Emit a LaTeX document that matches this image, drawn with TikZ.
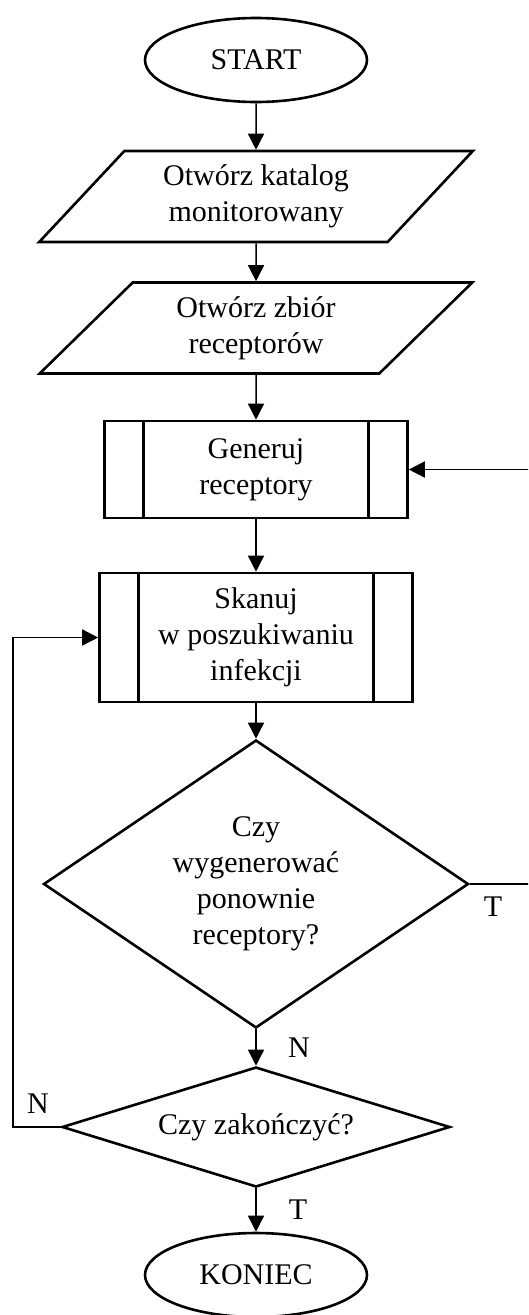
\documentclass[tikz,border=0pt]{standalone}
\usepackage{fontspec}
\setmainfont{Liberation Serif}
\usetikzlibrary{shapes.geometric,arrows.meta}

\tikzset{
  base/.style={draw, line width=2.6pt, inner sep=0pt, align=center,
    font=\fontsize{30}{36}\selectfont},
  terminal/.style={base, ellipse, minimum width=222pt, minimum height=84pt},
  iobox/.style={base, trapezium, trapezium left angle=46.5,
    trapezium right angle=133.5, trapezium stretches=true,
    minimum width=434pt, minimum height=91pt},
  subproc/.style={base, rectangle, minimum width=#1, path picture={
      \draw[line width=2.6pt]
        ([xshift=39pt]path picture bounding box.north west) --
        ([xshift=39pt]path picture bounding box.south west)
        ([xshift=-39pt]path picture bounding box.north east) --
        ([xshift=-39pt]path picture bounding box.south east);}},
  decision/.style={base, diamond},
  tag/.style={font=\fontsize{30}{36}\selectfont, inner sep=0pt},
  conn/.style={line width=1.5pt, -{Triangle[length=16pt,width=16pt]}},
  wire/.style={line width=1.5pt}
}

\begin{document}
\begin{tikzpicture}[x=1pt, y=-1pt]
  \useasboundingbox (0,0) rectangle (528,1315);
  \clip (0,0) rectangle (528,1315);

  \node[terminal] (start) at (256,60) {START};
  \node[iobox] (opendir) at (256,196.5) {Otwórz katalog\\monitorowany};
  \node[iobox] (openset) at (256,328) {Otwórz zbiór\\receptorów};
  \node[subproc=303pt, minimum height=97pt] (gen) at (256,469.5) {Generuj\\receptory};
  \node[subproc=313pt, minimum height=129pt] (scan) at (256,637.5)
    {Skanuj\\w poszukiwaniu\\infekcji};
  \node[decision, minimum width=425pt, minimum height=288pt, aspect=1.476]
    (again) at (256,884) {Czy\\wygenerować\\ponownie\\receptory?};
  \node[decision, minimum width=388pt, minimum height=120pt, aspect=3.2]
    (finish) at (256,1127) {Czy zakończyć?};
  \node[terminal] (stop) at (256,1275) {KONIEC};

  \coordinate (rx) at (540,700);
  \coordinate (lx) at (13,900);

  \draw[conn] (start) -- (opendir);
  \draw[conn] (opendir) -- (openset);
  \draw[conn] (openset) -- (gen);
  \draw[conn] (gen) -- (scan);
  \draw[conn] (scan) -- (again);
  \draw[conn] (again) -- (finish);
  \draw[conn] (finish) -- (stop);
  \draw[conn] (again.east) -| (rx) |- (gen.east);
  \draw[conn] (finish.west) -| (lx) |- (scan.west);

  \node[tag] (tagT1) at (493,907) {T};
  \node[tag] (tagN1) at (299,1048) {N};
  \node[tag] (tagN2) at (38,1104) {N};
  \node[tag] (tagT2) at (298,1210) {T};
\end{tikzpicture}
\end{document}
